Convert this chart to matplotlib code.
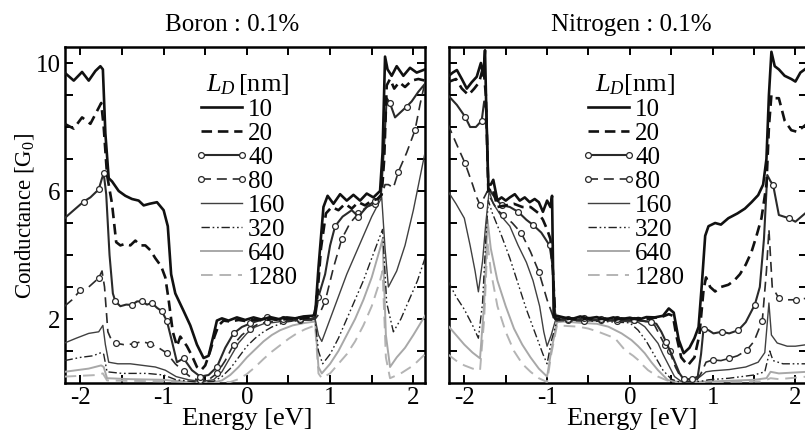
import numpy as np
import matplotlib
matplotlib.use("Agg")
import matplotlib.pyplot as plt
from matplotlib.lines import Line2D
from matplotlib.legend_handler import HandlerLine2D

plt.rcParams['font.family'] = ['Liberation Serif', 'DejaVu Serif']
plt.rcParams['mathtext.fontset'] = 'custom'
plt.rcParams['mathtext.rm'] = 'Liberation Serif'
plt.rcParams['mathtext.it'] = 'Liberation Serif:italic'
plt.rcParams['axes.unicode_minus'] = False

panel_titles = ["Boron : 0.1%", "Nitrogen : 0.1%"]
legend_titles = [r"$L_D\,$[nm]", r"$L_D$[nm]"]
lengths = ["10", "20", "40", "80", "160", "320", "640", "1280"]

# ---------------- Boron ----------------
B10_E = [-2.19,-2.08,-1.98,-1.90,-1.82,-1.76,-1.73,-1.70,-1.66,-1.62,-1.54,-1.46,-1.38,-1.30,-1.24,-1.17,-1.08,-1.00,-0.95,-0.91,-0.86,-0.76,-0.68,-0.60,-0.52,-0.46,-0.40,-0.36,-0.30,-0.22,-0.12,-0.02,0.08,0.18,0.28,0.38,0.48,0.58,0.68,0.78,0.82,0.86,0.92,0.97,1.04,1.12,1.20,1.28,1.36,1.44,1.52,1.60,1.63,1.66,1.69,1.74,1.80,1.88,1.96,2.04,2.14]
B10_G = [9.70,9.45,9.72,9.45,9.75,9.90,9.80,7.80,6.40,6.30,6.00,5.85,5.75,5.70,5.55,5.60,5.65,5.40,4.90,3.40,2.80,2.25,1.80,1.20,0.78,0.85,1.50,1.95,2.02,1.95,2.05,1.97,2.05,1.98,2.06,2.00,2.05,2.02,2.08,2.10,2.12,3.60,5.50,5.85,5.60,5.90,5.70,5.88,5.70,5.92,5.80,6.00,7.20,10.2,9.80,9.60,9.90,9.60,9.85,9.70,9.80]

B20_E = [-2.19,-2.08,-1.98,-1.88,-1.80,-1.75,-1.72,-1.68,-1.62,-1.57,-1.52,-1.46,-1.40,-1.34,-1.28,-1.22,-1.16,-1.10,-1.03,-0.98,-0.94,-0.89,-0.84,-0.80,-0.76,-0.72,-0.66,-0.60,-0.55,-0.50,-0.44,-0.39,-0.34,-0.28,-0.20,-0.10,0.00,0.10,0.20,0.30,0.40,0.50,0.60,0.70,0.80,0.84,0.89,0.95,1.02,1.10,1.18,1.26,1.34,1.42,1.50,1.57,1.62,1.65,1.68,1.72,1.77,1.83,1.90,1.98,2.06,2.14]
B20_G = [8.10,7.95,8.30,8.10,8.50,8.75,8.00,6.50,5.60,4.40,4.30,4.35,4.30,4.45,4.30,4.30,4.15,3.90,3.65,3.30,2.60,1.60,1.15,1.45,1.30,1.15,0.85,0.50,0.40,0.55,1.00,1.45,1.80,1.95,1.92,1.97,1.93,1.98,1.95,2.00,1.96,2.02,1.98,2.03,2.06,2.50,4.20,5.30,5.50,5.40,5.60,5.45,5.65,5.55,5.70,5.75,5.90,7.00,9.30,9.50,9.20,9.40,9.25,9.45,9.50,9.45]

B40_E = [-2.19,-2.08,-1.96,-1.88,-1.78,-1.74,-1.72,-1.69,-1.65,-1.61,-1.58,-1.52,-1.45,-1.38,-1.32,-1.26,-1.20,-1.14,-1.08,-1.02,-0.96,-0.90,-0.84,-0.76,-0.66,-0.56,-0.46,-0.36,-0.26,-0.16,-0.06,0.04,0.14,0.24,0.34,0.44,0.54,0.64,0.74,0.82,0.86,0.94,1.00,1.06,1.15,1.26,1.34,1.44,1.54,1.61,1.65,1.68,1.72,1.78,1.92,1.98,2.06,2.14]
B40_G = [5.15,5.40,5.67,5.80,6.05,6.40,6.55,5.90,4.00,2.80,2.55,2.40,2.45,2.44,2.55,2.55,2.45,2.50,2.35,2.24,1.93,1.30,0.65,0.77,0.40,0.20,0.25,0.50,1.10,1.55,1.75,1.86,1.95,2.07,1.97,2.00,1.95,2.00,1.98,2.05,2.70,3.40,4.30,4.90,5.20,5.40,5.20,5.50,5.70,5.85,7.50,8.90,8.74,8.30,8.64,8.80,9.10,9.35]
B40_M = [-1.96,-1.78,-1.72,-1.58,-1.38,-1.26,-1.14,-1.02,-0.96,-0.76,-0.56,-0.36,-0.16,0.04,0.24,0.44,0.64,0.86,1.06,1.34,1.54,1.72,1.92]

B80_E = [-2.19,-2.10,-2.00,-1.90,-1.78,-1.74,-1.71,-1.67,-1.62,-1.57,-1.48,-1.36,-1.26,-1.16,-1.06,-0.96,-0.86,-0.76,-0.66,-0.56,-0.46,-0.36,-0.26,-0.16,-0.06,0.04,0.14,0.24,0.34,0.44,0.54,0.64,0.74,0.82,0.88,0.94,1.04,1.14,1.24,1.34,1.44,1.54,1.62,1.66,1.70,1.76,1.82,1.92,2.02,2.08,2.14]
B80_G = [2.40,2.60,2.90,3.00,3.28,3.50,3.00,1.60,1.30,1.24,1.20,1.22,1.30,1.22,1.10,0.93,0.60,0.36,0.15,0.08,0.10,0.30,0.70,1.20,1.50,1.70,1.85,1.90,1.93,1.95,1.94,1.97,1.96,2.00,2.20,2.55,3.60,4.50,5.00,5.30,5.50,5.60,5.85,6.20,6.20,6.10,6.60,7.20,7.90,8.70,9.40]
B80_M = [-2.00,-1.78,-1.57,-1.36,-1.16,-0.96,-0.76,-0.56,-0.36,-0.16,0.04,0.24,0.44,0.64,0.94,1.14,1.34,1.54,1.82,2.02]

B160_E = [-2.19,-2.05,-1.90,-1.78,-1.73,-1.70,-1.66,-1.55,-1.40,-1.25,-1.10,-0.98,-0.85,-0.70,-0.55,-0.40,-0.30,-0.20,-0.10,0.00,0.10,0.20,0.35,0.50,0.65,0.82,0.86,0.90,1.00,1.10,1.20,1.30,1.40,1.50,1.62,1.66,1.70,1.80,1.90,2.00,2.14]
B160_G = [1.25,1.40,1.55,1.60,1.80,1.20,0.65,0.60,0.60,0.55,0.50,0.40,0.20,0.10,0.05,0.10,0.35,0.80,1.25,1.55,1.75,1.85,1.90,1.95,1.95,2.00,1.50,1.30,2.00,2.70,3.40,4.00,4.60,5.20,5.80,4.20,3.00,3.50,4.30,5.40,7.20]

B320_E = [-2.19,-2.00,-1.85,-1.75,-1.72,-1.68,-1.50,-1.20,-1.00,-0.85,-0.60,-0.40,-0.30,-0.20,-0.10,0.00,0.10,0.20,0.30,0.45,0.60,0.82,0.86,0.91,1.00,1.10,1.20,1.30,1.40,1.50,1.63,1.68,1.76,1.85,1.95,2.05,2.14]
B320_G = [0.70,0.80,0.85,0.95,0.90,0.35,0.30,0.30,0.25,0.10,0.03,0.05,0.20,0.45,0.80,1.15,1.40,1.60,1.75,1.90,1.95,1.97,1.00,0.60,0.90,1.40,2.00,2.60,3.20,3.90,4.80,2.50,1.60,2.00,2.60,3.20,3.90]

B640_E = [-2.19,-1.90,-1.75,-1.72,-1.68,-1.40,-1.00,-0.70,-0.40,-0.30,-0.20,-0.10,0.00,0.10,0.20,0.30,0.40,0.55,0.70,0.82,0.86,0.90,1.00,1.10,1.20,1.30,1.40,1.50,1.60,1.63,1.67,1.72,1.80,1.90,2.00,2.14]
B640_G = [0.35,0.45,0.55,0.50,0.15,0.12,0.10,0.02,0.02,0.08,0.25,0.50,0.80,1.05,1.30,1.50,1.65,1.80,1.88,1.92,0.50,0.30,0.60,1.00,1.50,2.00,2.60,3.30,4.20,4.50,1.50,0.50,0.80,1.10,1.50,2.10]

B1280_E = [-2.19,-1.80,-1.73,-1.68,-1.00,-0.20,-0.10,0.00,0.10,0.20,0.30,0.40,0.50,0.60,0.70,0.82,0.86,0.90,1.00,1.10,1.20,1.30,1.40,1.50,1.60,1.63,1.67,1.72,1.85,2.00,2.14]
B1280_G = [0.20,0.25,0.30,0.08,0.05,0.03,0.12,0.28,0.50,0.75,0.98,1.18,1.38,1.55,1.68,1.80,0.30,0.15,0.30,0.60,0.90,1.30,1.80,2.40,3.20,3.50,0.80,0.15,0.30,0.55,0.90]

# ---------------- Nitrogen ----------------
N10_E = [-2.20,-2.14,-2.09,-2.03,-1.97,-1.91,-1.85,-1.80,-1.77,-1.75,-1.73,-1.71,-1.68,-1.65,-1.60,-1.55,-1.50,-1.45,-1.39,-1.33,-1.27,-1.21,-1.15,-1.10,-1.05,-1.00,-0.96,-0.94,-0.92,-0.88,-0.80,-0.70,-0.60,-0.50,-0.40,-0.30,-0.20,-0.10,0.00,0.10,0.20,0.30,0.40,0.47,0.53,0.59,0.65,0.72,0.78,0.83,0.87,0.91,0.95,1.03,1.10,1.19,1.30,1.39,1.47,1.55,1.61,1.65,1.68,1.71,1.75,1.80,1.87,1.95,2.00,2.06,2.14]
N10_G = [9.57,9.70,9.78,9.50,9.20,9.40,9.57,10.0,9.60,10.4,8.00,6.20,6.20,6.35,5.70,5.80,5.70,5.80,5.90,5.70,5.80,5.65,5.75,5.65,5.35,5.70,5.50,5.85,2.05,2.10,2.05,2.00,2.08,2.02,2.06,1.98,2.05,2.00,2.04,1.98,2.06,2.05,2.10,2.33,2.20,1.35,0.93,1.10,1.40,1.75,3.10,4.60,4.90,5.00,4.95,5.15,5.30,5.45,5.65,5.87,6.20,7.00,9.00,10.35,9.90,9.80,9.60,9.50,9.42,9.70,9.85]

N20_E = [-2.20,-2.10,-2.03,-1.95,-1.88,-1.82,-1.77,-1.74,-1.71,-1.66,-1.60,-1.50,-1.40,-1.30,-1.20,-1.10,-1.05,-1.00,-0.96,-0.93,-0.90,-0.80,-0.70,-0.60,-0.50,-0.40,-0.30,-0.20,-0.10,0.00,0.10,0.20,0.30,0.40,0.47,0.52,0.56,0.62,0.70,0.78,0.84,0.89,0.92,0.97,1.03,1.10,1.19,1.26,1.33,1.40,1.47,1.53,1.59,1.65,1.68,1.71,1.75,1.80,1.87,1.95,2.02,2.14]
N20_G = [9.40,9.50,9.20,9.00,9.20,9.40,9.90,9.00,6.00,6.10,5.50,5.55,5.60,5.50,5.50,5.30,5.10,4.80,4.50,3.50,2.00,1.98,2.02,1.97,2.03,1.98,2.02,1.96,2.02,1.98,2.03,1.99,2.04,2.08,2.15,2.10,1.50,0.80,0.55,0.80,1.50,2.90,3.30,3.00,2.86,3.00,3.07,3.20,3.40,3.70,4.10,4.60,5.15,6.20,8.00,9.00,8.90,8.90,8.20,7.90,7.85,8.10]

N40_E = [-2.20,-2.09,-1.99,-1.93,-1.86,-1.79,-1.76,-1.73,-1.71,-1.66,-1.60,-1.55,-1.45,-1.35,-1.25,-1.17,-1.07,-0.97,-0.93,-0.90,-0.85,-0.75,-0.65,-0.55,-0.45,-0.35,-0.25,-0.15,-0.05,0.05,0.15,0.25,0.32,0.38,0.44,0.52,0.60,0.65,0.75,0.82,0.86,0.89,0.95,1.01,1.11,1.20,1.31,1.40,1.51,1.57,1.62,1.66,1.70,1.73,1.80,1.92,2.00,2.14]
N40_G = [9.00,8.69,8.32,8.00,8.00,8.20,8.80,8.50,6.10,5.90,5.70,5.56,5.50,5.35,5.10,4.94,4.70,4.30,3.60,2.00,2.05,2.00,1.98,2.02,1.97,2.00,1.95,2.00,1.97,1.98,1.95,1.90,1.85,1.60,1.27,0.80,0.30,0.12,0.12,0.20,0.90,1.70,1.65,1.55,1.60,1.55,1.65,1.90,2.45,3.00,4.50,6.50,6.30,6.20,5.25,5.15,5.04,5.35]
N40_M = [-1.99,-1.79,-1.55,-1.35,-1.17,-0.97,-0.75,-0.55,-0.35,-0.15,0.05,0.25,0.44,0.65,0.75,0.89,1.11,1.31,1.51,1.73,1.92]

N80_E = [-2.20,-2.10,-1.99,-1.90,-1.85,-1.81,-1.76,-1.72,-1.69,-1.60,-1.53,-1.42,-1.31,-1.20,-1.10,-1.00,-0.93,-0.88,-0.75,-0.55,-0.35,-0.15,0.05,0.20,0.30,0.36,0.42,0.48,0.55,0.62,0.70,0.80,0.86,0.92,1.00,1.10,1.20,1.30,1.41,1.50,1.60,1.65,1.68,1.72,1.80,1.90,2.01,2.14]
N80_G = [8.10,7.50,6.86,6.20,5.80,5.56,5.80,6.00,5.80,5.40,5.25,5.00,4.68,4.10,3.48,2.60,2.10,1.98,1.98,1.95,1.97,1.94,1.96,1.92,1.80,1.50,1.20,1.00,0.50,0.15,0.05,0.05,0.30,0.65,0.72,0.70,0.77,0.85,1.02,1.30,1.95,3.50,4.80,3.00,2.65,2.60,2.60,2.65]
N80_M = [-1.99,-1.81,-1.53,-1.31,-1.10,-0.75,-0.55,-0.35,-0.15,0.05,0.42,0.48,1.00,1.20,1.41,1.60,1.80,2.01]

N160_E = [-2.20,-2.10,-2.00,-1.93,-1.87,-1.83,-1.78,-1.74,-1.70,-1.65,-1.55,-1.45,-1.35,-1.25,-1.17,-1.09,-1.04,-1.00,-0.95,-0.90,-0.70,-0.50,-0.30,-0.10,0.10,0.18,0.26,0.34,0.40,0.46,0.54,0.62,0.75,0.85,0.92,1.00,1.20,1.40,1.55,1.63,1.68,1.71,1.78,1.90,2.00,2.14]
N160_G = [6.00,5.60,5.15,4.30,3.50,2.85,3.80,5.00,6.00,5.60,5.20,4.90,4.30,3.77,3.20,2.40,1.60,1.15,1.50,1.95,1.96,1.94,1.96,1.93,1.90,1.76,1.50,1.24,0.90,0.60,0.20,0.05,0.05,0.20,0.35,0.38,0.42,0.50,0.65,0.95,2.50,1.50,1.25,1.15,1.15,1.20]

N320_E = [-2.20,-2.10,-2.00,-1.90,-1.83,-1.78,-1.74,-1.71,-1.66,-1.55,-1.45,-1.35,-1.25,-1.15,-1.05,-1.00,-0.95,-0.88,-0.60,-0.30,0.00,0.10,0.20,0.30,0.40,0.50,0.60,0.85,0.95,1.20,1.50,1.63,1.69,1.73,1.85,2.14]
N320_G = [3.20,2.70,2.30,1.80,1.40,2.50,4.50,5.70,5.30,4.60,3.90,3.10,2.30,1.60,0.90,0.60,1.30,1.95,1.94,1.92,1.88,1.65,1.30,0.85,0.40,0.12,0.03,0.05,0.10,0.15,0.25,0.35,1.00,0.70,0.60,0.60]

N640_E = [-2.20,-2.10,-2.00,-1.90,-1.81,-1.76,-1.72,-1.68,-1.60,-1.50,-1.40,-1.30,-1.20,-1.10,-1.00,-0.95,-0.88,-0.80,-0.60,-0.40,-0.26,-0.10,0.02,0.10,0.18,0.26,0.34,0.46,0.60,1.00,1.50,1.65,1.70,1.80,2.14]
N640_G = [1.80,1.50,1.20,0.95,0.77,2.50,5.10,4.20,3.20,2.40,1.70,1.20,0.80,0.45,0.20,1.00,1.90,1.92,1.88,1.85,1.76,1.55,1.34,1.15,0.93,0.65,0.40,0.09,0.02,0.05,0.10,0.15,0.35,0.30,0.35]

N1280_E = [-2.20,-2.10,-2.00,-1.90,-1.81,-1.76,-1.72,-1.68,-1.60,-1.50,-1.40,-1.30,-1.20,-1.10,-1.00,-0.95,-0.88,-0.75,-0.62,-0.50,-0.38,-0.28,-0.18,-0.06,0.04,0.10,0.16,0.22,0.34,0.45,0.60,1.00,1.60,1.70,1.80,2.14]
N1280_G = [0.90,0.70,0.55,0.45,0.40,2.00,4.40,3.50,2.40,1.60,1.00,0.60,0.35,0.15,0.03,0.90,1.80,1.78,1.76,1.70,1.60,1.50,1.40,1.03,0.85,0.72,0.55,0.40,0.20,0.08,0.02,0.03,0.05,0.15,0.12,0.20]

boron = [(B10_E, B10_G, None), (B20_E, B20_G, None), (B40_E, B40_G, B40_M), (B80_E, B80_G, B80_M),
         (B160_E, B160_G, None), (B320_E, B320_G, None), (B640_E, B640_G, None), (B1280_E, B1280_G, None)]
nitrogen = [(N10_E, N10_G, None), (N20_E, N20_G, None), (N40_E, N40_G, N40_M), (N80_E, N80_G, N80_M),
            (N160_E, N160_G, None), (N320_E, N320_G, None), (N640_E, N640_G, None), (N1280_E, N1280_G, None)]

styles = [
    dict(color='#111111', lw=1.9, ls='-'),
    dict(color='#111111', lw=1.9, ls=(0, (4, 2.2))),
    dict(color='#2a2a2a', lw=1.5, ls='-'),
    dict(color='#2a2a2a', lw=1.2, ls=(0, (6, 3.5))),
    dict(color='#404040', lw=1.0, ls='-'),
    dict(color='#222222', lw=1.0, ls=(0, (6, 2, 1.2, 2, 1.2, 2))),
    dict(color='#a8a8a8', lw=1.4, ls='-'),
    dict(color='#b4b4b4', lw=1.4, ls=(0, (6, 3.5))),
]

fig = plt.figure(figsize=(8.05, 4.37), dpi=100)
W, H = 805.0, 437.0
axes = [fig.add_axes([65 / W, 54 / H, 360 / W, 336 / H]),
        fig.add_axes([449 / W, 54 / H, 358 / W, 336 / H])]

FS = 18
for k, (ax, data) in enumerate(zip(axes, [boron, nitrogen])):
    handles = []
    for i, ((E, G, M), st) in enumerate(zip(data, styles)):
        kw = dict(color=st['color'], lw=st['lw'], ls=st['ls'], zorder=20 - i,
                  label=lengths[i])
        if M is not None:
            idx = [j for j, e in enumerate(E) if any(abs(e - m) < 1e-9 for m in M)]
            kw.update(marker='o', markersize=4.2, markerfacecolor='white',
                      markeredgecolor=st['color'], markeredgewidth=0.9, markevery=idx)
        h, = ax.plot(E, G, **kw)
        handles.append(h)
    ax.set_xlim(-2.185, 2.14)
    ax.set_ylim(0, 10.5)
    ax.set_xticks([-2, -1, 0, 1, 2])
    ax.set_xticks([-1.5, -0.5, 0.5, 1.5], minor=True)
    ax.set_yticks([2, 6, 10])
    ax.set_yticks([1, 3, 4, 5, 7, 8, 9], minor=True)
    ax.tick_params(which='both', direction='in', top=True, right=True,
                   length=5.5, width=1.4, labelsize=FS)
    ax.tick_params(axis='y', pad=3)
    ax.tick_params(axis='x', pad=3)
    if k == 1:
        ax.tick_params(labelleft=False)
    for s in ax.spines.values():
        s.set_linewidth(1.8)
    x0 = (198 - 65) / 360 if k == 0 else (585 - 449) / 358
    leg = ax.legend(handles=handles, title=legend_titles[k], frameon=False,
                    loc='upper left', bbox_to_anchor=(x0, 0.925),
                    fontsize=FS, title_fontsize=FS + 1, numpoints=2,
                    handler_map={Line2D: HandlerLine2D(marker_pad=0.1)},
                    handlelength=1.85, handletextpad=0.15, labelspacing=0.06,
                    borderpad=0.0, borderaxespad=0.0)
    leg.set_zorder(30)

fig.text(232 / W, 1 - 25 / H, panel_titles[0], ha='center', va='center', fontsize=FS)
fig.text(631 / W, 1 - 25 / H, panel_titles[1], ha='center', va='center', fontsize=FS)
fig.text(247 / W, 1 - 419 / H, "Energy [eV]", ha='center', va='center', fontsize=FS + 1)
fig.text(632 / W, 1 - 419 / H, "Energy [eV]", ha='center', va='center', fontsize=FS + 1)
fig.text(25 / W, 1 - 216 / H, r"Conductance [G$_0$]", ha='center', va='center',
         rotation=90, fontsize=16.5)

fig.savefig("out.png", dpi=100)
